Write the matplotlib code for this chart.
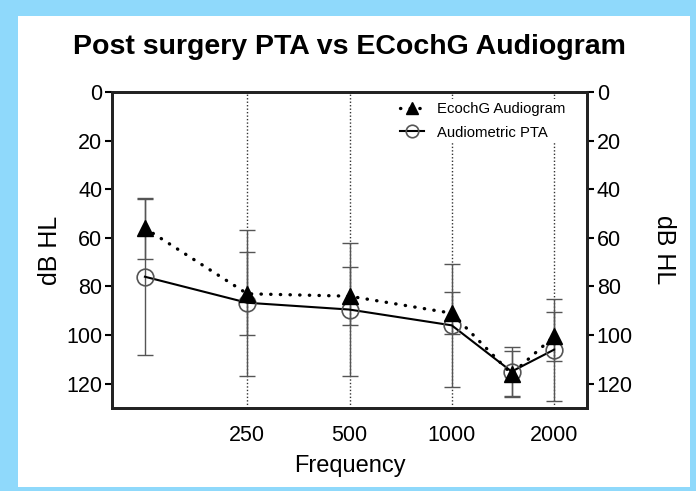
import matplotlib.pyplot as plt
from matplotlib.patches import Rectangle

# data
freqs = [125, 250, 500, 1000, 1500, 2000]
ecochg = [56, 83, 84, 91, 116, 100.5]
ecochg_sd = [12.5, 17, 12, 8.6, 9.5, 10]
pta = [76, 86.7, 89.5, 96, 115, 106]
pta_sd = [32, 30, 27.5, 25.4, 10, 21]
tick_freqs = [250, 500, 1000, 2000]
y_ticks = [0, 20, 40, 60, 80, 100, 120]

plt.rcParams['font.family'] = ['Liberation Sans', 'DejaVu Sans']

fig = plt.figure(figsize=(6.96, 4.91), dpi=100, facecolor='#8FD9FB')
bg = Rectangle((18 / 696, 4 / 491), 672 / 696, 471 / 491,
               transform=fig.transFigure, facecolor='white',
               edgecolor='none', zorder=-10)
fig.add_artist(bg)

ax = fig.add_axes([112 / 696, 83 / 491, 475 / 696, 316 / 491])
ax.set_facecolor('none')
ax.set_xscale('log')
ax.set_xlim(100, 2500)
ax.set_ylim(130, 0)

# dotted vertical grid at labelled frequencies
for f in tick_freqs:
    ax.axvline(f, color='#333333', lw=1, ls=(0, (1, 1.5)), zorder=1)

# error bars
ax.errorbar(freqs, pta, yerr=pta_sd, fmt='none', ecolor='#555555',
            elinewidth=1, capsize=6, capthick=1, zorder=2)
ax.errorbar(freqs, ecochg, yerr=ecochg_sd, fmt='none', ecolor='#555555',
            elinewidth=1, capsize=6, capthick=1, zorder=2)

# lines and markers
ax.plot(freqs, pta, color='black', lw=1.5, marker='o', ms=12,
        mfc='none', mec='#555555', mew=1.2, label='Audiometric PTA', zorder=3)
ax.plot(freqs, ecochg, color='black', lw=2.4, ls=(0, (0.1, 2.8)),
        dash_capstyle='round', marker='^', ms=11, mfc='black', mec='black',
        label='EcochG Audiogram', zorder=4)

ax.set_xticks(tick_freqs)
ax.set_xticklabels([str(f) for f in tick_freqs], fontsize=15.5)
ax.minorticks_off()
ax.tick_params(axis='x', length=0, pad=12)
ax.set_yticks(y_ticks)
ax.tick_params(axis='y', labelsize=15.5, length=5, width=1.5, direction='out',
               pad=2)

ax2 = ax.twinx()
ax2.set_ylim(130, 0)
ax2.set_yticks(y_ticks)
ax2.tick_params(axis='y', labelsize=15.5, length=5, width=1.5, direction='out',
                pad=2)

for a in (ax, ax2):
    for s in a.spines.values():
        s.set_linewidth(2)
        s.set_color('#222222')

ax.set_xlabel('Frequency', fontsize=17, labelpad=7)
ax.set_ylabel('dB HL', fontsize=18, labelpad=3)
ax2.set_ylabel('dB HL', fontsize=18, rotation=270, labelpad=31)
ax.set_title('Post surgery PTA vs ECochG Audiogram', fontsize=20.5,
             fontweight='bold', pad=27)

handles, labels = ax.get_legend_handles_labels()
leg = ax.legend(handles[::-1], labels[::-1], loc='upper left',
                bbox_to_anchor=(0.585, 1.0), fontsize=10.7, frameon=True,
                handlelength=1.6, handletextpad=0.85, labelspacing=0.62,
                borderpad=0.2, markerscale=0.75)
leg.get_frame().set_edgecolor('none')
leg.get_frame().set_facecolor('white')
leg.get_frame().set_alpha(1)
leg.set_zorder(10)

fig.savefig('out.png', dpi=100, facecolor=fig.get_facecolor())
